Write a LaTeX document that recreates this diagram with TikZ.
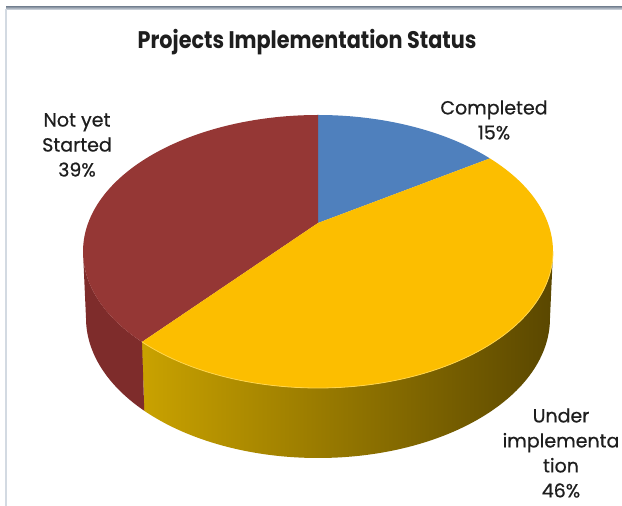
\documentclass[tikz,border=0pt]{standalone}
\usepackage{fontspec}
\setmainfont{Poppins}
\newfontfamily\lblfont[FakeBold=0.6]{Poppins}
\definecolor{pieRed}{HTML}{953735}
\definecolor{pieRedSide}{HTML}{7E2C2B}
\definecolor{pieBlue}{HTML}{4F80BD}
\definecolor{pieYellow}{HTML}{FCBE00}
\definecolor{rimYellow}{HTML}{FFD54A}
\definecolor{sideA}{HTML}{C9A200}
\definecolor{sideB}{HTML}{846900}
\definecolor{sideC}{HTML}{5A4700}
\definecolor{txt}{HTML}{1E1E1E}
\definecolor{frameTop}{HTML}{7F8B9A}
\definecolor{frameLow}{HTML}{E2E7EE}
\definecolor{frameLeft}{HTML}{D3DAE2}
\tikzset{
  lbl/.style={align=center, text=txt, font=\lblfont\fontsize{19}{25}\selectfont, inner sep=0pt},
  ttl/.style={text=txt, font=\fontsize{24}{28}\selectfont\bfseries, inner sep=0pt}
}
\begin{document}
\begin{tikzpicture}[x=1pt,y=1pt]
\useasboundingbox (0,0) rectangle (622,506);
\fill[white] (0,0) rectangle (622,506);
% frame
\shade[top color=frameTop, bottom color=frameLow] (6,499.5) rectangle (622,496);
\fill[frameLeft] (5.2,0) rectangle (6.8,497);
% geometry
\coordinate (C) at (318,283);
\coordinate (E) at (318,254.5);
\coordinate (L) at (318,188);
% sides
\shade[left color=sideA, middle color=sideB, right color=sideC]
  ([shift={(E)}]221.5:235pt and 136.5pt) arc[start angle=221.5, end angle=360, x radius=235pt, y radius=136.5pt]
  -- ([shift={(L)}]360:232pt and 140pt) arc[start angle=360, end angle=221.5, x radius=232pt, y radius=140pt] -- cycle;
\fill[pieRedSide]
  ([shift={(E)}]180:235pt and 136.5pt) arc[start angle=180, end angle=221.5, x radius=235pt, y radius=136.5pt]
  -- ([shift={(L)}]221.5:232pt and 140pt) arc[start angle=221.5, end angle=180, x radius=232pt, y radius=140pt] -- cycle;
% top slices
\fill[pieBlue] (C) -- ([shift={(E)}]90:235pt and 136.5pt) arc[start angle=90, end angle=43, x radius=235pt, y radius=136.5pt] -- cycle;
\fill[pieRed] (C) -- ([shift={(E)}]221.5:235pt and 136.5pt) arc[start angle=221.5, end angle=90, x radius=235pt, y radius=136.5pt] -- cycle;
\fill[pieYellow] (C) -- ([shift={(E)}]43:235pt and 136.5pt) arc[start angle=43, end angle=-138.5, x radius=235pt, y radius=136.5pt] -- cycle;
% rim highlight
\draw[rimYellow, line width=0.8pt] ([shift={(E)}]-138.5:235pt and 136.5pt) arc[start angle=-138.5, end angle=0, x radius=235pt, y radius=136.5pt];
% texts
\node[ttl] (title) at (307,464) {\scalebox{0.865}[1]{Projects Implementation Status}};
\node[lbl] (notyet) at (77,361) {Not yet\\Started\\39\%};
\node[lbl] (done) at (494,386) {Completed\\15\%};
\node[lbl] (under) at (561,53) {Under\\implementa\\tion\\46\%};
\end{tikzpicture}
\end{document}
